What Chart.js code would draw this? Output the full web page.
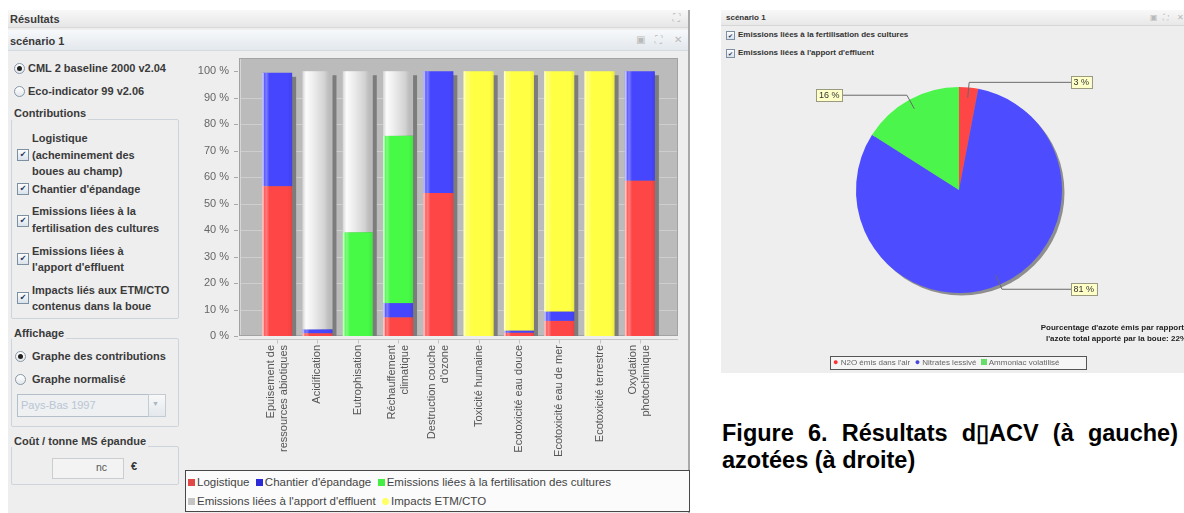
<!DOCTYPE html>
<html><head><meta charset="utf-8">
<script src="https://cdn.jsdelivr.net/npm/chart.js@4.4.0/dist/chart.umd.min.js"></script>
<style>
body{margin:0;width:1184px;height:513px;background:#fff;position:relative;overflow:hidden;font-family:"Liberation Sans",Arial,sans-serif;}
.a{position:absolute;white-space:nowrap;}
.t{position:absolute;white-space:nowrap;font-weight:bold;font-size:11px;line-height:14px;color:#3a3a3a;}
.rb{position:absolute;width:9px;height:9px;border:1px solid #8797a7;border-radius:50%;background:linear-gradient(#fff,#e4e8ec);}
.rb.on::after{content:"";position:absolute;left:2px;top:2px;width:5px;height:5px;border-radius:50%;background:#222;}
.cb{position:absolute;width:10px;height:10px;border:1px solid #7d8fa2;background:linear-gradient(#fdfdfd,#d9e2ea);font-size:8px;line-height:10px;text-align:center;color:#1d3660;font-family:"DejaVu Sans",sans-serif;}
.grp{position:absolute;border:1px solid #cdd4db;border-radius:2px;}
.gt{position:absolute;white-space:nowrap;font-weight:bold;font-size:11px;line-height:14px;color:#3a3a3a;background:#eeeeee;padding:0 2px;}
.ico{position:absolute;color:#b9b9b9;font-size:10px;line-height:10px;font-family:"DejaVu Sans",sans-serif;}
.lg{position:absolute;font-size:11.5px;color:#444;line-height:14px;white-space:nowrap;}
.lg span.m{display:inline-block;width:7px;height:7px;margin-right:2px;vertical-align:0px;}
.pl{position:absolute;font-size:8px;color:#666;line-height:11px;white-space:nowrap;}
</style></head>
<body>
<!-- left panel -->
<div class="a" style="left:8px;top:10px;width:680px;height:503px;background:#eeeeee;border-right:2px solid #a9a9a9;"></div>
<div class="a" style="left:8px;top:10px;width:680px;height:17px;background:linear-gradient(#f8f8f8,#e6e6e6);border-bottom:1px solid #d8d8d8;"></div>
<div class="t" style="left:10px;top:12px;">Résultats</div>
<div class="a" style="left:8px;top:30px;width:680px;height:20px;background:linear-gradient(#f7f9fb,#e3e8ed);border-bottom:1px solid #d5dbe1;"></div>
<div class="t" style="left:10px;top:34px;">scénario 1</div>
<div class="ico" style="left:673px;top:13px;">⛶</div>
<div class="ico" style="left:636px;top:35px;">▣</div>
<div class="ico" style="left:655px;top:35px;">⛶</div>
<div class="ico" style="left:674px;top:35px;">✕</div>

<div class="rb on" style="left:14px;top:63px;"></div><div class="t" style="left:28px;top:61px;">CML 2 baseline 2000 v2.04</div>
<div class="rb" style="left:14px;top:86px;"></div><div class="t" style="left:28px;top:84px;">Eco-indicator 99 v2.06</div>

<div class="grp" style="left:11px;top:119px;width:166px;height:198px;"></div>
<div class="gt" style="left:12px;top:106px;">Contributions</div>
<div class="cb" style="left:17px;top:149px;">✔</div>
<div class="t" style="left:32px;top:131px;">Logistique</div>
<div class="t" style="left:32px;top:148px;">(acheminement des</div>
<div class="t" style="left:32px;top:164px;">boues au champ)</div>
<div class="cb" style="left:17px;top:183px;">✔</div>
<div class="t" style="left:32px;top:182px;">Chantier d'épandage</div>
<div class="cb" style="left:17px;top:215px;">✔</div>
<div class="t" style="left:32px;top:204px;">Emissions liées à la</div>
<div class="t" style="left:32px;top:221px;">fertilisation des cultures</div>
<div class="cb" style="left:17px;top:253px;">✔</div>
<div class="t" style="left:32px;top:244px;">Emissions liées à</div>
<div class="t" style="left:32px;top:260px;">l'apport d'effluent</div>
<div class="cb" style="left:17px;top:292px;">✔</div>
<div class="t" style="left:32px;top:283px;">Impacts liés aux ETM/CTO</div>
<div class="t" style="left:32px;top:299px;">contenus dans la boue</div>

<div class="grp" style="left:11px;top:338px;width:166px;height:87px;"></div>
<div class="gt" style="left:12px;top:326px;">Affichage</div>
<div class="rb on" style="left:15px;top:351px;"></div><div class="t" style="left:32px;top:349px;">Graphe des contributions</div>
<div class="rb" style="left:15px;top:374px;"></div><div class="t" style="left:32px;top:372px;">Graphe normalisé</div>
<div class="a" style="left:17px;top:394px;width:130px;height:21px;border:1px solid #b3bfcb;background:#eef0f2;"></div>
<div class="a" style="left:21px;top:399px;font-size:11px;color:#b9c6d3;">Pays-Bas 1997</div>
<div class="a" style="left:148px;top:394px;width:16px;height:21px;border:1px solid #c3ccd5;background:linear-gradient(#f8f8f8,#e4e8ec);"></div>
<div class="a" style="left:152px;top:400px;font-size:7px;color:#a8b4c0;">▼</div>

<div class="grp" style="left:11px;top:446px;width:166px;height:37px;"></div>
<div class="gt" style="left:12px;top:434px;">Coût / tonne MS épandue</div>
<div class="a" style="left:52px;top:458px;width:70px;height:19px;border:1px solid #c9ced3;background:#f3f3f3;"></div>
<div class="a" style="left:96px;top:461px;font-size:10.5px;color:#555;">nc</div>
<div class="a" style="left:131px;top:460px;font-size:11px;color:#333;font-weight:bold;">€</div>

<canvas id="bar" width="510" height="418" style="position:absolute;left:180px;top:50px;"></canvas>

<div class="a" style="left:185px;top:470px;width:503px;height:40px;border:1px solid #474747;background:#fbfbfb;"></div>
<div class="lg" style="left:188px;top:475px;"><span class="m" style="background:#e04848"></span>Logistique &nbsp;<span class="m" style="background:#2a2ad8"></span>Chantier d'épandage &nbsp;<span class="m" style="background:#44ee44"></span>Emissions liées à la fertilisation des cultures</div>
<div class="lg" style="left:188px;top:494px;"><span class="m" style="background:#c4c4c4"></span>Emissions liées à l'apport d'effluent &nbsp;<span class="m" style="background:#ffff66;border-radius:50%"></span>Impacts ETM/CTO</div>

<!-- right panel -->
<div class="a" style="left:721px;top:10px;width:470px;height:363px;background:#eeeeee;"></div>
<div class="a" style="left:721px;top:10px;width:470px;height:15px;background:linear-gradient(#f8f8f8,#e8e8e8);border-bottom:1px solid #d6d6d6;"></div>
<div class="a" style="left:726px;top:13px;font-size:8px;font-weight:bold;color:#333;">scénario 1</div>
<div class="ico" style="left:1150px;top:13px;font-size:8px;">▣</div>
<div class="ico" style="left:1163px;top:13px;font-size:8px;">⛶</div>
<div class="ico" style="left:1177px;top:13px;font-size:8px;">✕</div>
<div class="cb" style="left:726px;top:31px;width:7px;height:7px;font-size:6px;line-height:7px;">✔</div>
<div class="a" style="left:738px;top:30px;font-size:8px;font-weight:bold;color:#333;">Emissions liées à la fertilisation des cultures</div>
<div class="cb" style="left:726px;top:49px;width:7px;height:7px;font-size:6px;line-height:7px;">✔</div>
<div class="a" style="left:738px;top:48px;font-size:8px;font-weight:bold;color:#333;">Emissions liées à l'apport d'effluent</div>

<canvas id="pie" width="463" height="290" style="position:absolute;left:721px;top:60px;"></canvas>

<div class="a" style="right:0px;top:323px;font-size:8px;font-weight:bold;color:#222;text-align:right;">Pourcentage d'azote émis par rapport</div>
<div class="a" style="right:-3px;top:334px;font-size:8px;font-weight:bold;color:#222;text-align:right;">l'azote total apporté par la boue: 22%</div>
<div class="a" style="left:830px;top:356px;width:255px;height:12px;border:1px solid #555;background:#f5f5f5;"></div>
<div class="pl" style="left:833px;top:357px;"><span style="color:#ff3030;font-size:9px">●</span> N2O émis dans l'air &nbsp;<span style="color:#4646d8;font-size:9px">●</span> Nitrates lessivé &nbsp;<span style="display:inline-block;width:6px;height:6px;background:#66dd66"></span> Ammoniac volatilisé</div>

<div class="a" style="left:722px;top:420px;width:456px;font-size:23.5px;font-weight:bold;color:#000;text-align:justify;text-align-last:justify;line-height:27px;">Figure 6. Résultats d▯ACV (à gauche)</div>
<div class="a" style="left:722px;top:447px;font-size:23.5px;font-weight:bold;color:#000;line-height:27px;">azotées (à droite)</div>

<script>
// ---------- bar chart data ----------
const categories = [
  ["Epuisement de","ressources abiotiques"],
  "Acidification",
  "Eutrophisation",
  ["Réchauffement","climatique"],
  ["Destruction couche","d'ozone"],
  "Toxicité humaine",
  "Ecotoxicité eau douce",
  "Ecotoxicité eau de mer",
  "Ecotoxicité terrestre",
  ["Oxydation","photochimique"]
];
const seriesNames = ["Logistique","Chantier d'épandage","Emissions liées à la fertilisation des cultures","Emissions liées à l'apport d'effluent","Impacts ETM/CTO"];
const logistique    = [56.6, 1.0,  0,   7.0, 54.0,   0, 1.2,  5.7,   0, 58.6];
const chantier      = [42.8, 1.5,  0,   5.4, 46.0,   0, 0.8,  3.5,   0, 41.4];
const fertilisation = [0,    0,   39.2, 63.2,   0,   0,   0,    0,   0,    0];
const effluent      = [0,   97.5, 60.8, 24.4,   0,   0,   0,    0,   0,    0];
const etmCto        = [0,    0,    0,    0,     0, 100, 98.0, 90.8, 100,    0];
const yTicks = [0,10,20,30,40,50,60,70,80,90,100];

// ---------- pie chart data ----------
const pieLabels = ["N2O émis dans l'air","Nitrates lessivé","Ammoniac volatilisé"];
const pieValues = [3, 81, 16];

const barColors = ["#ff4646","#4646ff","#46fa46","#c6c6c6","#ffff44"];

function line(ctx,x1,y1,x2,y2){ctx.beginPath();ctx.moveTo(x1,y1);ctx.lineTo(x2,y2);ctx.stroke();}

const barDeco = {
  id:'barDeco',
  beforeDatasetsDraw(chart){
    const {ctx, chartArea:a, scales:{x,y}} = chart;
    const L = a.left - 18, R = a.right + 18;
    ctx.save();
    ctx.fillStyle = '#bbbbbb';
    ctx.fillRect(L, a.top, R-L, a.bottom-a.top);
    ctx.strokeStyle = '#a2a2a2'; ctx.lineWidth = 1;
    ctx.strokeRect(L+0.5, a.top+0.5, R-L-1, a.bottom-a.top-1);
    ctx.strokeStyle = '#d6d6d6'; line(ctx, L+1.5, a.top+1, L+1.5, a.bottom-1);
    yTicks.forEach(v=>{
      const py = Math.round(y.getPixelForValue(v))+0.5;
      ctx.strokeStyle='rgba(255,255,255,0.28)'; if(v>0 && v<100) line(ctx,L+2,py,R-1,py);
      ctx.strokeStyle='#a8a8a8'; line(ctx,L-5,py,L-1,py);
    });
    const by = Math.round(a.bottom)+3.5;
    ctx.strokeStyle='#c4c4c4'; line(ctx,L,by,R,by);
    categories.forEach((c,i)=>{ const px=Math.round(x.getPixelForValue(i))+0.5; line(ctx,px,by,px,by+4); });
    const meta0 = chart.getDatasetMeta(0);
    const all = [logistique,chantier,fertilisation,effluent,etmCto];
    categories.forEach((c,i)=>{
      const tot = all.reduce((s,arr)=>s+arr[i],0);
      const top = y.getPixelForValue(tot);
      const b = meta0.data[i];
      ctx.fillStyle = '#7c7c7c';
      ctx.fillRect(b.x - b.width/2 + 4, top + 4, b.width, a.bottom - top - 4);
    });
    ctx.restore();
  },
  afterDatasetsDraw(chart){
    const {ctx} = chart;
    ctx.save();
    chart.data.datasets.forEach((ds,di)=>{
      const meta = chart.getDatasetMeta(di);
      meta.data.forEach((b,i)=>{
        if(!ds.data[i]) return;
        const left = b.x - b.width/2, w = b.width;
        const top = Math.min(b.y,b.base), h = Math.abs(b.base-b.y);
        const g = ctx.createLinearGradient(left,0,left+w,0);
        if(di===3){
          g.addColorStop(0,'rgba(255,255,255,0.25)');
          g.addColorStop(0.12,'rgba(255,255,255,0.95)');
          g.addColorStop(0.35,'rgba(255,255,255,0.7)');
          g.addColorStop(0.75,'rgba(255,255,255,0.2)');
          g.addColorStop(1,'rgba(0,0,0,0.04)');
        } else {
          g.addColorStop(0,'rgba(255,255,255,0.75)');
          g.addColorStop(0.05,'rgba(255,255,255,0.55)');
          g.addColorStop(0.08,'rgba(255,255,255,0.12)');
          g.addColorStop(0.14,'rgba(255,255,255,0.3)');
          g.addColorStop(0.24,'rgba(255,255,255,0)');
          g.addColorStop(0.85,'rgba(0,0,0,0)');
          g.addColorStop(1,'rgba(0,0,0,0.08)');
        }
        ctx.fillStyle = g;
        ctx.fillRect(left, top, w, h);
      });
    });
    ctx.restore();
  },
  afterDraw(chart){
    const {ctx, chartArea:a, scales:{x}} = chart;
    ctx.save();
    ctx.font = '11px "Liberation Sans", Arial, sans-serif';
    ctx.fillStyle = '#555';
    ctx.textAlign = 'right'; ctx.textBaseline = 'middle';
    categories.forEach((c,i)=>{
      const lines = Array.isArray(c)?c:[c];
      const px = x.getPixelForValue(i);
      ctx.save();
      ctx.translate(px, a.bottom + 9);
      ctx.rotate(-Math.PI/2);
      lines.forEach((ln,j)=>ctx.fillText(ln, 0, (j-(lines.length-1)/2)*13));
      ctx.restore();
    });
    ctx.restore();
  }
};

new Chart(document.getElementById('bar'), {
  type:'bar',
  data:{
    labels: categories,
    datasets:[logistique,chantier,fertilisation,effluent,etmCto].map((d,i)=>({
      label: seriesNames[i], data: d, backgroundColor: barColors[i], borderWidth:0,
      categoryPercentage:1, barPercentage:0.745
    }))
  },
  options:{
    responsive:false, animation:false, devicePixelRatio:1,
    layout:{padding:{left:0,right:30,top:8,bottom:0}},
    plugins:{legend:{display:false},tooltip:{enabled:false}},
    events:[],
    scales:{
      x:{stacked:true, grid:{display:false,drawTicks:false}, border:{display:false}, ticks:{display:false},
         afterFit(s){ s.height = 132; }},
      y:{stacked:true, min:0, max:105, grid:{display:false,drawTicks:true,tickLength:28}, border:{display:false},
         afterBuildTicks(s){ s.ticks = yTicks.map(v=>({value:v})); },
         afterFit(s){ s.width = 77; },
         ticks:{padding:0, color:'#666', font:{size:11, family:'"Liberation Sans", Arial, sans-serif'}, callback:v=>v+' %'}}
    }
  },
  plugins:[barDeco]
});

// ---------- pie ----------
const pieDeco = {
  id:'pieDeco',
  beforeDatasetsDraw(chart){
    const {ctx} = chart; const arc = chart.getDatasetMeta(0).data[0];
    ctx.save(); ctx.fillStyle='#8e8e8e';
    ctx.beginPath(); ctx.arc(arc.x+2.5, arc.y+2.5, arc.outerRadius, 0, Math.PI*2); ctx.fill();
    ctx.restore();
  },
  afterDatasetsDraw(chart){
    const {ctx} = chart;
    const arcs = chart.getDatasetMeta(0).data;
    const total = pieValues.reduce((s,v)=>s+v,0);
    ctx.save();
    ctx.font = '9px "Liberation Sans", Arial, sans-serif';
    ctx.textBaseline='middle';
    arcs.forEach((arc,i)=>{
      const mid = (arc.startAngle+arc.endAngle)/2;
      const r = arc.outerRadius;
      const sx = arc.x + Math.cos(mid)*r*0.9, sy = arc.y + Math.sin(mid)*r*0.9;
      const ex = arc.x + Math.cos(mid)*r*1.05, ey = arc.y + Math.sin(mid)*r*1.05;
      const right = Math.cos(mid) >= 0;
      const lx = right ? arc.x + r + 9 : arc.x - r - 14;
      ctx.strokeStyle='#6a6a6a'; ctx.lineWidth=1;
      ctx.beginPath(); ctx.moveTo(sx,sy); ctx.lineTo(ex,ey); ctx.lineTo(lx,ey); ctx.stroke();
      const txt = Math.round(pieValues[i]/total*100)+' %';
      const tw = ctx.measureText(txt).width + 5, th = 12;
      const bx = right ? lx : lx - tw;
      ctx.fillStyle='#ffffc8'; ctx.fillRect(bx, ey-th/2, tw, th);
      ctx.strokeStyle='#9a9a80'; ctx.strokeRect(Math.round(bx)+0.5, Math.round(ey-th/2)+0.5, Math.round(tw), th);
      ctx.fillStyle='#333'; ctx.textAlign='left'; ctx.fillText(txt, bx+2.5, ey+0.5);
    });
    ctx.restore();
  }
};

new Chart(document.getElementById('pie'), {
  type:'pie',
  data:{labels:pieLabels, datasets:[{data:pieValues, backgroundColor:['#ff4646','#4d4dff','#4cf54c'], borderWidth:0}]},
  options:{
    responsive:false, animation:false, devicePixelRatio:1, events:[],
    layout:{padding:{left:135,right:122,top:27,bottom:57}},
    plugins:{legend:{display:false},tooltip:{enabled:false}}
  },
  plugins:[pieDeco]
});
</script>
</body></html>
